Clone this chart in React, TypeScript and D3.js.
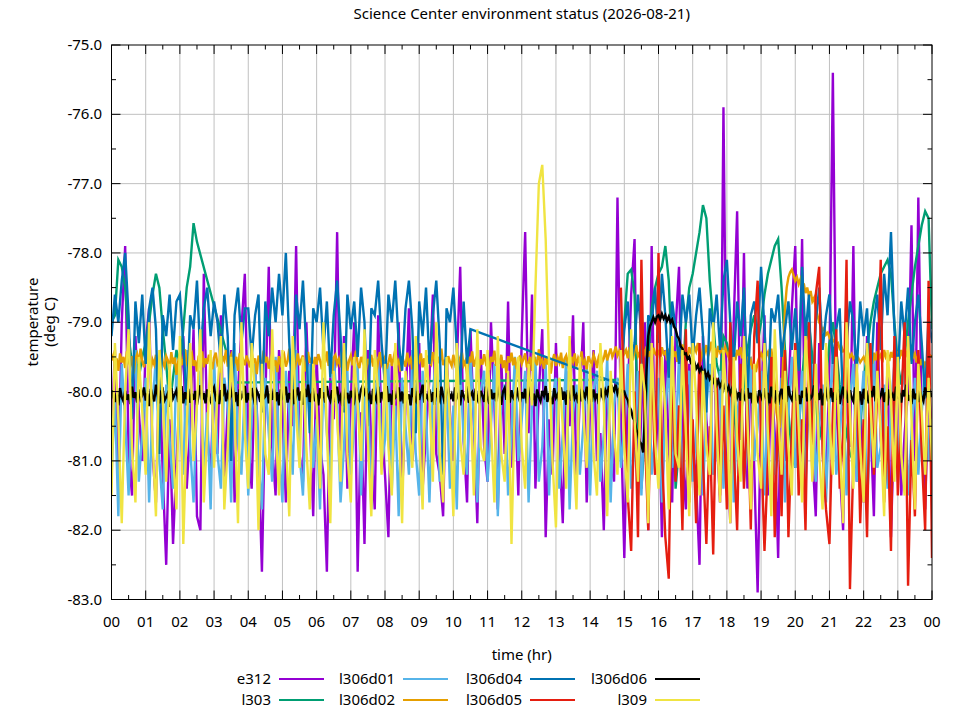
import React from 'react';
import * as d3 from 'd3';

// ---- chart data (temperature in deg C) ----
const STEP_HR = 0.1;       // sampling of most series
const FINE_STEP_HR = 0.05; // sampling of l306d02 / l306d06

const xTickLabels = ['00','01','02','03','04','05','06','07','08','09','10','11','12','13','14','15','16','17','18','19','20','21','22','23','00'];
const yTickValues = [-75, -76, -77, -78, -79, -80, -81, -82, -83];

const e312 = [
  -80.6, -79.4, -81.3, -79.0, -77.9, -80.9, -81.5, -79.2, -80.3, -81.0,
  -79.3, -78.8, -80.9, -81.6, -79.6, -81.2, -82.5, -80.4, -82.2, -81.0,
  -80.0, -79.2, -81.4, -80.5, -79.1, -81.8, -82.0, -78.3, -80.6, -81.2,
  -79.8, -80.9, -78.9, -81.3, -80.2, -79.4, -81.6, -80.0, -79.1, -78.3,
  -80.7, -81.4, -79.6, -80.9, -82.6, -80.1, -78.2, -80.8, -81.5, -79.4,
  -80.2, -81.6, -79.7, -80.5, -77.9, -80.9, -81.3, -79.0, -80.4, -81.8,
  -79.5, -80.8, -81.2, -82.6, -79.8, -80.4, -77.7, -80.9, -79.2, -81.4,
  -80.1, -79.0, -82.6, -80.3, -82.2, -79.4, -80.8, -81.7, -78.9, -80.5,
  -81.2, -82.1, -79.6, -80.7, -79.0, -81.5, -80.2, -78.8, -81.0, -80.4,
  -79.3, -81.4, -80.6, -79.8, -78.6, -80.9, -81.2, -81.8, -79.5, -80.3,
  -81.0, -79.6, -78.2, -80.7, -81.6, -79.1, -80.5, -81.9, -79.4, -80.8,
  -81.3, -79.0, -80.2, -81.7, -79.5, -80.9, -78.7, -81.1, -80.0, -81.5,
  -79.2, -77.7, -80.6, -78.6, -81.4, -80.0, -79.1, -82.1, -80.4, -81.2,
  -79.3, -80.8, -81.9, -79.7, -80.5, -78.9, -81.3, -80.1, -79.0, -81.6,
  -80.2, -79.4, -81.0, -80.6, -82.0, -79.8, -80.9, -81.3, -77.2, -80.4,
  -82.4, -80.1, -78.6, -77.8, -81.5, -80.3, -79.0, -82.0, -77.9, -81.2,
  -80.0, -82.1, -79.4, -80.8, -81.6, -79.1, -78.2, -80.9, -81.7, -79.6,
  -80.7, -81.3, -82.5, -79.2, -80.4, -81.0, -79.3, -80.6, -81.6, -75.9,
  -80.8, -81.9, -79.0, -77.4, -80.7, -78.0, -81.4, -79.6, -81.1, -82.9,
  -80.3, -78.9, -81.5, -79.8, -80.6, -82.4, -79.4, -81.0, -80.1, -78.8,
  -77.9, -80.6, -77.8, -81.2, -79.7, -80.9, -81.8, -79.3, -80.5, -81.4,
  -79.6, -75.4, -80.2, -81.1, -82.0, -79.5, -80.8, -77.9, -81.3, -80.0,
  -81.6, -79.2, -80.4, -81.8, -79.0, -80.7, -81.2, -79.6, -82.1, -80.3,
  -79.4, -81.5, -80.6, -80.0, -77.6, -81.0, -77.2, -80.5, -81.7, -79.9,
  -80.6,
];

// l303: data until 2.5 hr, one reading at 3.6 hr, resumes at 14.9 hr
const l303_a = [
  -79.0, -78.9, -78.1, -78.2, -78.5, -79.2, -79.6, -79.4, -79.8, -79.5,
  -79.3, -79.0, -78.6, -78.3, -78.5, -79.1, -79.6, -80.2, -79.8, -79.4,
  -79.6, -79.1, -78.5, -78.2, -77.57, -77.84,
];
const l303_b = [-79.87];
const l303_c = [
  -79.83,
  -79.0, -78.3, -78.24, -78.6, -80.5, -81.4, -80.6, -79.5, -78.8, -78.5,
  -78.3, -78.2, -77.9, -78.4, -79.6, -81.4, -80.8, -79.9, -79.0, -78.5,
  -78.3, -78.0, -77.7, -77.31, -77.5, -78.4, -79.0, -79.6, -79.8, -79.2,
  -79.3, -79.6, -80.2, -80.8, -80.4, -79.9, -79.4, -79.1, -78.9, -79.3,
  -79.0, -78.6, -78.3, -78.1, -77.9, -77.8, -78.5, -79.4, -80.3, -80.9,
  -81.1, -80.6, -79.8, -79.3, -79.0, -79.5, -80.1, -80.7, -80.4, -79.8,
  -79.3, -79.0, -79.4, -79.9, -80.3, -80.6, -80.9, -81.0, -81.1, -80.5,
  -79.9, -79.4, -79.0, -78.7, -78.5, -78.3, -78.2, -78.1, -78.3, -79.0,
  -79.6, -79.9, -79.5, -79.0, -78.6, -78.2, -77.9, -77.6, -77.4, -77.5,
  -79.1,
];

const l306d01 = [
  -81.2, -80.1, -81.8, -79.6, -80.4, -81.5, -80.0, -79.4, -81.3, -80.6,
  -79.8, -81.6, -80.2, -79.5, -81.0, -81.7, -79.9, -80.7, -81.4, -79.6,
  -80.5, -81.2, -79.4, -80.8, -81.6, -80.1, -79.7, -81.1, -80.3, -81.7,
  -79.5, -80.9, -81.4, -79.8, -80.2, -81.6, -79.3, -80.7, -81.2, -79.9,
  -81.5, -80.4, -79.6, -81.0, -81.7, -79.8, -80.6, -81.3, -79.5, -80.8,
  -81.6, -79.7, -80.3, -81.2, -79.4, -80.9, -81.5, -80.0, -79.6, -81.1,
  -80.4, -81.7, -79.8, -80.6, -81.3, -79.5, -80.2, -81.6, -80.8, -79.7,
  -81.2, -80.5, -79.6, -81.5, -80.1, -79.9, -81.7, -80.3, -79.5, -81.0,
  -80.7, -79.6, -81.4, -80.2, -81.8, -79.8, -80.5, -81.2, -79.4, -80.9,
  -81.5, -79.7, -80.3, -81.6, -80.0, -79.5, -81.3, -80.8, -79.9, -81.4,
  -80.2, -81.7, -79.6, -80.7, -81.2, -79.5, -80.4, -81.6, -80.0, -79.7,
  -81.3, -80.5, -79.6, -81.8, -80.1, -79.9, -81.5, -80.6, -79.5, -81.0,
  -80.4, -79.7, -81.6, -80.2, -79.5, -81.3, -80.8, -79.6, -81.5, -80.1,
  -79.8, -81.4, -80.6, -79.5, -81.7, -80.3, -79.9, -81.2, -80.5, -79.6,
  -81.5, -80.0, -79.7, -81.3, -80.6, -79.5, -81.6, -80.2, -79.8, -81.1,
  -80.5, -79.6, -81.4, -80.8, -79.7, -81.5, -80.1, -79.5, -81.2, -80.6,
  -79.8, -81.6, -80.3, -79.6, -81.1, -80.7, -79.5, -81.4, -80.0, -79.7,
  -81.3, -80.6, -79.8, -81.5, -80.2, -79.6, -81.2, -80.8, -79.7, -81.4,
  -80.1, -79.6, -81.6, -80.4, -79.8, -81.3, -80.7, -79.5, -81.0, -80.5,
  -79.7, -81.5, -80.2, -79.6, -81.2, -80.9, -79.8, -81.6, -80.3, -79.5,
  -81.1, -80.6, -79.7, -81.4, -80.0, -79.6, -81.3, -80.5, -79.9, -81.6,
  -80.2, -79.5, -81.2, -80.7, -79.8, -81.5, -80.1, -79.6, -81.3, -80.4,
  -79.7, -81.6, -80.5, -79.5, -81.1, -80.8, -79.9, -81.4, -80.2, -79.6,
  -81.3, -80.0, -79.7, -81.5, -80.6, -79.8, -81.2, -80.3, -79.6, -81.0,
  -80.4,
];

// l306d02: every 0.05 hr
const l306d02 = [
  -79.55, -79.48, -79.62, -79.52, -79.70, -79.45, -79.58, -79.50, -79.66, -79.42, -79.57, -79.63, -79.49, -79.74, -79.53, -79.46, -79.60, -79.38, -79.56, -79.65,
  -79.50, -79.59, -79.44, -79.68, -79.54, -79.61, -79.47, -79.72, -79.52, -79.40, -79.58, -79.64, -79.49, -79.55, -79.69, -79.43, -79.60, -79.51, -79.76, -79.57,
  -79.46, -79.62, -79.53, -79.39, -79.58, -79.67, -79.50, -79.45, -79.63, -79.55, -79.71, -79.48, -79.59, -79.42, -79.65, -79.52, -79.60, -79.47, -79.56, -79.68,
  -79.51, -79.44, -79.61, -79.57, -79.73, -79.49, -79.55, -79.40, -79.64, -79.53, -79.47, -79.66, -79.58, -79.50, -79.70, -79.45, -79.60, -79.54, -79.62, -79.48,
  -79.57, -79.65, -79.43, -79.59, -79.52, -79.75, -79.48, -79.56, -79.61, -79.41, -79.58, -79.50, -79.67, -79.54, -79.46, -79.63, -79.55, -79.72, -79.49, -79.60,
  -79.53, -79.47, -79.64, -79.56, -79.38, -79.60, -79.51, -79.69, -79.58, -79.45, -79.62, -79.54, -79.48, -79.71, -79.57, -79.43, -79.59, -79.52, -79.66, -79.50,
  -79.61, -79.46, -79.55, -79.68, -79.49, -79.58, -79.42, -79.63, -79.56, -79.74, -79.51, -79.47, -79.60, -79.53, -79.65, -79.44, -79.57, -79.50, -79.70, -79.55,
  -79.48, -79.62, -79.54, -79.41, -79.59, -79.66, -79.50, -79.57, -79.45, -79.69, -79.53, -79.60, -79.47, -79.64, -79.52, -79.73, -79.56, -79.43, -79.61, -79.55,
  -79.50, -79.67, -79.58, -79.46, -79.63, -79.52, -79.40, -79.60, -79.55, -79.71, -79.49, -79.57, -79.64, -79.44, -79.59, -79.53, -79.68, -79.47, -79.62, -79.51,
  -79.56, -79.45, -79.65, -79.52, -79.70, -79.48, -79.58, -79.61, -79.43, -79.55, -79.66, -79.50, -79.59, -79.38, -79.62, -79.54, -79.72, -79.49, -79.57, -79.63,
  -79.47, -79.60, -79.53, -79.68, -79.51, -79.44, -79.62, -79.56, -79.75, -79.50, -79.58, -79.42, -79.64, -79.55, -79.48, -79.67, -79.53, -79.61, -79.46, -79.59,
  -79.54, -79.69, -79.50, -79.57, -79.41, -79.63, -79.52, -79.60, -79.47, -79.66, -79.55, -79.73, -79.49, -79.58, -79.44, -79.62, -79.51, -79.68, -79.56, -79.48,
  -79.60, -79.53, -79.45, -79.65, -79.58, -79.50, -79.70, -79.47, -79.56, -79.62, -79.39, -79.59, -79.54, -79.67, -79.49, -79.61, -79.52, -79.74, -79.55, -79.46,
  -79.63, -79.51, -79.58, -79.44, -79.66, -79.53, -79.48, -79.60, -79.71, -79.50, -79.57, -79.45, -79.64, -79.52, -79.59, -79.42, -79.62, -79.55, -79.68, -79.49,
  -79.56, -79.61, -79.47, -79.54, -79.66, -79.50, -79.43, -79.58, -79.52, -79.40, -79.55, -79.46, -79.38, -79.50, -79.44, -79.35, -79.48, -79.42, -79.53, -79.37,
  -79.45, -79.40, -79.52, -79.36, -79.47, -79.55, -79.41, -79.33, -79.49, -79.44, -79.58, -79.39, -79.46, -79.35, -79.50, -79.42, -79.54, -79.37, -79.45, -79.48,
  -79.40, -79.52, -79.36, -79.46, -79.43, -79.55, -79.38, -79.48, -79.34, -79.50, -79.42, -79.57, -79.39, -79.45, -79.32, -79.47, -79.41, -79.53, -79.36, -79.44,
  -79.48, -79.35, -79.42, -79.30, -79.46, -79.52, -79.38, -79.44, -79.33, -79.49, -79.40, -79.28, -79.45, -79.37, -79.51, -79.34, -79.43, -79.39, -79.47, -79.36,
  -79.44, -79.50, -79.38, -79.46, -79.42, -79.55, -79.40, -79.48, -79.36, -79.52, -79.45, -79.58, -79.50, -79.62, -79.55, -79.68, -79.60, -79.72, -79.58, -79.50,
  -79.45, -79.52, -79.40, -79.48, -79.43, -79.55, -79.38, -79.60, -79.90, -80.30, -80.45, -80.52, -80.10, -79.50, -78.80, -78.50, -78.35, -78.28, -78.24, -78.32,
  -78.40, -78.35, -78.45, -78.38, -78.52, -78.44, -78.58, -78.50, -78.62, -78.55, -78.70, -78.65, -78.80, -78.90, -79.00, -79.05, -79.12, -79.08, -79.18, -79.15,
  -79.22, -79.18, -79.28, -79.25, -79.32, -79.30, -79.38, -79.35, -79.42, -79.40, -79.47, -79.44, -79.50, -79.46, -79.53, -79.49, -79.56, -79.52, -79.58, -79.54,
  -79.50, -79.57, -79.45, -79.53, -79.48, -79.60, -79.44, -79.55, -79.42, -79.52, -79.47, -79.58, -79.40, -79.50, -79.45, -79.56, -79.43, -79.51, -79.38, -79.48,
  -79.44, -79.53, -79.40, -79.49, -79.36, -79.47, -79.42, -79.55, -79.39, -79.50, -79.45, -79.58, -79.48, -79.62, -79.53, -79.66, -79.58, -79.60, -79.52, -79.48,
  -79.50,
];

// l306d04: data until 10.5 hr, resumes at 14.9 hr
const l306d04_a = [
  -79.2, -78.6, -79.0, -78.4, -78.0, -78.9, -80.4, -78.7, -79.3, -78.6,
  -79.6, -78.8, -78.5, -79.1, -80.9, -78.9, -79.2, -78.6, -79.4, -78.7,
  -78.6, -79.3, -80.2, -78.9, -79.1, -78.4, -79.5, -78.8, -78.5, -79.2,
  -78.7, -79.0, -79.6, -78.6, -79.2, -81.0, -78.9, -78.5, -79.3, -78.8,
  -78.8, -79.5, -78.9, -78.6, -80.3, -78.7, -79.2, -78.5, -79.0, -78.3,
  -78.9, -78.0, -79.3, -80.2, -78.6, -79.1, -78.4, -79.4, -80.6, -78.8,
  -79.0, -78.5, -79.4, -78.7, -79.8, -78.9, -78.4, -79.2, -80.3, -78.6,
  -79.1, -78.7, -79.5, -78.5, -79.0, -80.5, -78.8, -78.9, -78.4, -79.3,
  -79.9, -78.6, -79.0, -78.4, -79.3, -79.7, -78.8, -78.4, -79.1, -80.6,
  -78.7, -79.2, -78.5, -79.6, -78.9, -78.4, -79.3, -81.2, -78.8, -79.0,
  -78.5, -79.4, -79.9, -78.7, -79.6, -79.1,
];
const l306d04_b = [
  -79.9,
  -79.1, -78.7, -79.6, -79.3, -78.6, -79.2, -80.4, -78.9, -79.0, -78.5,
  -79.3, -78.3, -78.9, -79.8, -78.7, -79.1, -79.6, -78.6, -79.0, -78.6,
  -79.5, -78.9, -78.5, -79.2, -80.3, -78.8, -79.1, -78.6, -79.4, -78.4,
  -78.1, -79.0, -79.6, -78.7, -79.2, -78.5, -80.1, -78.9, -78.7, -79.3,
  -78.2, -79.1, -80.2, -78.8, -79.0, -78.6, -79.5, -79.1, -78.7, -79.4,
  -78.8, -79.7, -78.2, -79.2, -78.6, -80.4, -79.0, -78.5, -79.4, -78.9,
  -78.6, -79.6, -79.1, -78.8, -80.2, -79.3, -78.7, -79.0, -79.7, -78.7,
  -79.2, -78.8, -79.9, -79.0, -78.6, -79.4, -78.3, -78.9, -77.7, -79.1,
  -79.8, -78.7, -79.2, -78.5, -79.6, -79.0, -78.6, -79.3, -80.1, -78.9,
  -79.3,
];

// l306d05: starts at 14.9 hr
const l306d05 = [
  -78.5,
  -80.3, -81.5, -82.3, -80.0, -82.1, -78.1, -80.6, -82.0, -79.4, -81.2,
  -78.0, -80.9, -82.1, -82.7, -79.5, -81.3, -80.2, -82.0, -79.1, -81.6,
  -80.4, -81.9, -79.3, -81.0, -82.2, -80.5, -82.35, -79.8, -81.5, -80.2,
  -81.7, -79.0, -80.8, -82.0, -79.6, -81.4, -80.1, -81.99, -79.2, -78.4,
  -80.7, -82.3, -81.0, -79.5, -82.1, -80.2, -81.8, -79.4, -82.1, -80.6,
  -79.3, -81.5, -80.4, -82.0, -79.0, -81.2, -78.6, -78.2, -80.9, -81.7,
  -82.2, -80.3, -79.1, -81.4, -80.6, -78.1, -82.85, -81.0, -79.7, -81.9,
  -80.4, -82.1, -79.3, -81.2, -80.0, -78.1, -81.6, -80.5, -82.3, -79.2,
  -81.5, -80.2, -79.0, -82.8, -80.7, -81.8, -79.4, -80.9, -82.0, -78.4,
  -82.4,
];

// l306d06: every 0.05 hr
const l306d06 = [
  -80.10, -79.98, -80.15, -80.02, -80.20, -79.95, -80.08, -80.14, -79.99, -80.12, -80.04, -80.18, -79.93, -80.09, -80.01, -80.16, -79.97, -80.11, -80.06, -79.94,
  -80.13, -80.03, -80.21, -79.96, -80.07, -80.14, -79.90, -80.05, -80.17, -80.00, -79.97, -80.13, -80.08, -80.02, -80.22, -79.95, -80.10, -80.04, -79.98, -80.15,
  -80.06, -79.92, -80.17, -80.01, -80.11, -79.96, -80.16, -80.03, -80.12, -79.99, -80.19, -80.05, -79.91, -80.12, -80.02, -80.17, -79.97, -80.08, -80.14, -80.00,
  -79.94, -80.10, -80.05, -80.18, -79.98, -80.07, -79.89, -80.14, -80.03, -80.11, -80.06, -79.93, -80.15, -80.01, -80.21, -79.97, -80.09, -80.05, -79.92, -80.16,
  -80.02, -80.13, -79.95, -80.08, -80.19, -79.99, -80.04, -80.15, -79.94, -80.10, -80.07, -79.91, -80.17, -80.03, -80.12, -79.96, -80.14, -80.01, -80.20, -79.97,
  -80.09, -80.05, -79.93, -80.16, -80.02, -80.11, -79.97, -80.18, -80.06, -79.94, -80.13, -80.00, -80.19, -79.96, -80.08, -79.90, -80.15, -80.04, -79.99, -80.14,
  -80.03, -80.20, -79.95, -80.10, -80.01, -80.16, -79.92, -80.07, -80.13, -79.98, -80.15, -80.04, -79.93, -80.12, -80.06, -80.21, -79.96, -80.09, -80.02, -80.17,
  -79.99, -80.08, -80.14, -79.94, -80.05, -80.11, -79.97, -79.91, -80.02, -79.95, -80.10, -80.04, -80.18, -79.96, -80.07, -80.13, -79.93, -80.16, -80.01, -80.10,
  -80.05, -79.92, -80.15, -80.03, -80.19, -79.98, -80.09, -80.06, -79.94, -80.14, -80.00, -80.17, -79.96, -80.11, -80.04, -80.20, -79.95, -80.08, -80.13, -79.99,
  -80.12, -80.02, -79.90, -80.16, -80.05, -80.10, -79.97, -80.15, -80.01, -80.19, -79.95, -80.08, -80.13, -79.93, -80.06, -80.18, -80.00, -79.96, -80.11, -80.04,
  -80.14, -79.94, -80.09, -80.03, -80.20, -79.98, -80.07, -80.12, -79.92, -80.16, -80.05, -80.01, -80.13, -79.96, -80.10, -80.17, -79.99, -80.06, -80.15, -79.93,
  -80.08, -80.18, -79.97, -80.11, -80.02, -80.14, -79.91, -80.06, -80.19, -80.00, -79.95, -80.12, -80.04, -80.16, -79.98, -80.09, -80.13, -79.94, -80.07, -80.15,
  -80.01, -80.10, -79.96, -80.17, -80.05, -79.93, -80.12, -80.03, -80.21, -79.97, -80.08, -80.14, -79.99, -80.06, -79.92, -80.15, -80.02, -80.11, -80.18, -79.95,
  -80.09, -80.04, -80.16, -79.94, -80.12, -80.00, -80.19, -79.98, -80.07, -80.13, -79.91, -80.10, -80.05, -80.17, -79.96, -80.14, -80.02, -80.08, -79.93, -80.12,
  -80.06, -80.15, -79.97, -80.10, -80.03, -80.18, -79.95, -80.07, -80.12, -79.98, -80.04, -79.92, -80.01, -79.94, -79.99, -79.90, -80.03, -79.96, -79.93, -80.00,
  -80.00, -80.08, -80.12, -80.22, -80.27, -80.38, -80.42, -80.55, -80.60, -80.72, -80.76, -80.88, -80.40, -79.70, -79.20, -79.06, -79.00, -78.93, -79.00, -78.92,
  -78.90, -78.96, -78.88, -78.95, -78.90, -78.98, -78.92, -79.00, -78.96, -79.06, -79.10, -79.20, -79.24, -79.35, -79.38, -79.46, -79.45, -79.53, -79.50, -79.59,
  -79.62, -79.58, -79.67, -79.62, -79.71, -79.66, -79.75, -79.70, -79.79, -79.73, -79.82, -79.77, -79.86, -79.80, -79.90, -79.84, -79.93, -79.87, -79.97, -79.90,
  -79.99, -79.93, -80.03, -79.96, -80.06, -79.98, -80.09, -80.01, -80.13, -79.96, -80.06, -80.14, -79.95, -80.10, -80.02, -80.17, -79.93, -80.08, -80.13, -79.98,
  -80.06, -80.14, -79.95, -80.10, -80.02, -80.17, -79.93, -80.08, -80.13, -79.98, -80.19, -80.04, -79.96, -80.11, -80.01, -80.15, -79.92, -80.07, -80.12, -80.00,
  -79.97, -80.13, -80.05, -80.18, -79.99, -80.09, -79.94, -80.14, -80.03, -80.10, -80.06, -79.91, -80.16, -80.02, -80.12, -79.96, -80.20, -80.04, -79.98, -80.11,
  -80.08, -79.95, -80.15, -80.01, -80.12, -79.97, -80.18, -80.05, -79.93, -80.10, -80.03, -80.16, -79.98, -80.09, -80.14, -79.94, -80.07, -80.13, -80.00, -80.19,
  -79.96, -80.11, -80.04, -80.17, -79.99, -80.08, -79.92, -80.14, -80.02, -80.12, -80.06, -79.95, -80.15, -80.01, -80.20, -79.97, -80.09, -80.04, -80.13, -79.93,
  -80.10, -80.02, -80.16, -79.98, -80.07, -79.90, -80.13, -80.05, -80.18, -79.96, -80.11, -80.03, -80.15, -79.99, -80.08, -80.14, -79.94, -80.06, -80.12, -80.01,
  -80.08,
];

const l309 = [
  -81.5, -79.3, -80.4, -81.9, -80.0, -79.1, -80.8, -81.6, -79.5, -80.3,
  -81.2, -79.0, -80.7, -81.8, -79.4, -80.1, -81.3, -79.6, -80.9, -81.7,
  -79.2, -82.2, -80.5, -79.3, -81.0, -80.2, -79.1, -81.6, -80.6, -79.4,
  -81.1, -80.0, -79.2, -81.7, -80.8, -79.5, -80.3, -81.9, -79.0, -80.6,
  -81.4, -79.3, -80.1, -82.0, -79.6, -80.9, -81.2, -79.1, -80.5, -81.5,
  -79.4, -80.7, -81.8, -79.2, -80.3, -81.1, -79.5, -80.8, -81.7, -79.6,
  -80.2, -81.4, -79.0, -80.6, -81.9, -79.7, -80.4, -81.3, -79.3, -80.9,
  -81.6, -79.5, -80.2, -81.0, -79.1, -80.7, -81.8, -79.4, -80.0, -81.2,
  -79.6, -80.8, -81.5, -79.3, -80.3, -81.9, -79.7, -80.5, -81.1, -79.2,
  -80.6, -81.7, -79.4, -80.1, -81.3, -79.0, -80.9, -81.6, -79.5, -80.4,
  -81.8, -79.3, -80.7, -81.2, -79.6, -80.2, -81.5, -79.1, -80.8, -81.0,
  -79.4, -80.5, -81.6, -79.2, -80.9, -81.3, -79.7, -82.2, -80.1, -79.5,
  -80.8, -81.4, -79.6, -80.2, -78.5, -77.0, -76.73, -77.8, -79.6, -81.0,
  -81.96, -79.8, -80.5, -81.4, -79.2, -80.7, -81.7, -79.5, -80.3, -81.1,
  -79.6, -80.9, -81.5, -79.3, -80.2, -81.8, -79.7, -80.6, -81.2, -79.4,
  -80.8, -81.6, -79.1, -80.4, -81.3, -79.6, -80.0, -81.9, -79.3, -80.7,
  -81.4, -79.5, -80.3, -81.7, -79.2, -80.9, -81.1, -79.4, -80.6, -81.8,
  -79.3, -80.1, -81.5, -79.7, -80.8, -81.2, -79.0, -80.5, -81.6, -79.4,
  -80.2, -81.9, -79.5, -80.7, -81.3, -79.2, -80.4, -81.7, -79.6, -80.9,
  -81.4, -79.3, -80.6, -81.8, -79.1, -80.3, -81.2, -79.7, -80.8, -81.5,
  -79.4, -80.5, -81.6, -79.2, -80.0, -81.3, -79.6, -80.9, -81.7, -79.3,
  -80.4, -81.2, -79.5, -80.7, -81.9, -79.0, -80.3, -81.4, -79.6, -80.8,
  -81.6, -79.3, -80.2, -81.1, -79.7, -80.6, -81.8, -79.4, -80.1, -81.3,
  -79.5, -80.9, -81.5, -79.2, -80.4, -81.7, -79.6, -80.3, -81.2, -79.8,
  -81.0,
];

type Segment = { start: number; step: number; values: number[] };
type Series = { name: string; color: string; segments: Segment[] };

const SERIES: Series[] = [
  { name: 'e312', color: '#9400d3', segments: [{ start: 0, step: STEP_HR, values: e312 }] },
  { name: 'l303', color: '#009e73', segments: [
    { start: 0, step: STEP_HR, values: l303_a },
    { start: 3.6, step: STEP_HR, values: l303_b },
    { start: 14.9, step: STEP_HR, values: l303_c },
  ] },
  { name: 'l306d01', color: '#56b4e9', segments: [{ start: 0, step: STEP_HR, values: l306d01 }] },
  { name: 'l306d02', color: '#e69f00', segments: [{ start: 0, step: FINE_STEP_HR, values: l306d02 }] },
  { name: 'l306d04', color: '#0072b2', segments: [
    { start: 0, step: STEP_HR, values: l306d04_a },
    { start: 14.9, step: STEP_HR, values: l306d04_b },
  ] },
  { name: 'l306d05', color: '#e51e10', segments: [{ start: 14.9, step: STEP_HR, values: l306d05 }] },
  { name: 'l306d06', color: '#000000', segments: [{ start: 0, step: FINE_STEP_HR, values: l306d06 }] },
  { name: 'l309', color: '#f0e442', segments: [{ start: 0, step: STEP_HR, values: l309 }] },
];

// ---- layout ----
const W = 960;
const H = 720;
const M = { left: 111.5, right: 932, top: 45, bottom: 599.5 };
const FONT = '"Noto Sans", "Open Sans", sans-serif';

export default function App() {
  const x = d3.scaleLinear().domain([0, 24]).range([M.left, M.right]);
  const y = d3.scaleLinear().domain([-83, -75]).range([M.bottom, M.top]);

  const line = d3
    .line<[number, number]>()
    .x((d) => x(d[0]))
    .y((d) => y(d[1]));

  const toPoints = (s: Series): [number, number][] =>
    s.segments.flatMap((seg) =>
      seg.values.map((v, i) => [seg.start + i * seg.step, v] as [number, number])
    );

  const majorX = d3.range(0, 25, 1);
  const minorX = d3.range(0.5, 24, 1);
  const majorY = yTickValues;
  const minorY = d3.range(-82.5, -75, 1);

  const gridColor = '#c0c0c0';
  const majorLen = 9;
  const minorLen = 4.5;

  const legendCols = [271, 395, 522, 647];
  const legendRows = [679, 700];

  return (
    <svg
      width={W}
      height={H}
      style={{ position: 'absolute', left: 0, top: 0, display: 'block', background: '#fff' }}
      fontFamily={FONT}
    >
      <rect x={0} y={0} width={W} height={H} fill="#fff" />
      <defs>
        <clipPath id="plotClip">
          <rect x={M.left} y={M.top} width={M.right - M.left} height={M.bottom - M.top} />
        </clipPath>
      </defs>

      {/* grid */}
      <g stroke={gridColor} strokeWidth={1}>
        {majorX.slice(1, -1).map((t) => (
          <line key={'gx' + t} x1={x(t)} x2={x(t)} y1={M.top} y2={M.bottom} />
        ))}
        {majorY.slice(1, -1).map((v) => (
          <line key={'gy' + v} x1={M.left} x2={M.right} y1={y(v)} y2={y(v)} />
        ))}
      </g>

      {/* data */}
      <g clipPath="url(#plotClip)" fill="none" strokeLinejoin="miter" strokeLinecap="butt">
        {SERIES.map((s) => (
          <path key={s.name} d={line(toPoints(s)) || ''} stroke={s.color} strokeWidth={2.4} />
        ))}
      </g>

      {/* ticks */}
      <g stroke="#000" strokeWidth={1}>
        {majorX.map((t) => (
          <g key={'tx' + t}>
            <line x1={x(t)} x2={x(t)} y1={M.bottom} y2={M.bottom - majorLen} />
            <line x1={x(t)} x2={x(t)} y1={M.top} y2={M.top + majorLen} />
          </g>
        ))}
        {minorX.map((t) => (
          <g key={'mx' + t}>
            <line x1={x(t)} x2={x(t)} y1={M.bottom} y2={M.bottom - minorLen} />
            <line x1={x(t)} x2={x(t)} y1={M.top} y2={M.top + minorLen} />
          </g>
        ))}
        {majorY.map((v) => (
          <g key={'ty' + v}>
            <line x1={M.left} x2={M.left + majorLen} y1={y(v)} y2={y(v)} />
            <line x1={M.right} x2={M.right - majorLen} y1={y(v)} y2={y(v)} />
          </g>
        ))}
        {minorY.map((v) => (
          <g key={'my' + v}>
            <line x1={M.left} x2={M.left + minorLen} y1={y(v)} y2={y(v)} />
            <line x1={M.right} x2={M.right - minorLen} y1={y(v)} y2={y(v)} />
          </g>
        ))}
      </g>

      {/* border */}
      <rect x={M.left} y={M.top} width={M.right - M.left} height={M.bottom - M.top} fill="none" stroke="#000" strokeWidth={1} />

      {/* tick labels */}
      <g fontSize={15} fill="#000">
        {majorX.map((t, i) => (
          <text key={'lx' + t} x={x(t)} y={627} textAnchor="middle">
            {xTickLabels[i]}
          </text>
        ))}
        {majorY.map((v) => (
          <text key={'ly' + v} x={102} y={y(v) + 5} textAnchor="end">
            {v.toFixed(1)}
          </text>
        ))}
      </g>

      {/* titles */}
      <text x={(M.left + M.right) / 2} y={19} textAnchor="middle" fontSize={15}>
        Science Center environment status (2026-08-21)
      </text>
      <text x={(M.left + M.right) / 2} y={660} textAnchor="middle" fontSize={15}>
        time (hr)
      </text>
      <g transform="translate(0, 322) rotate(-90)" fontSize={15}>
        <text x={0} y={38} textAnchor="middle">temperature</text>
        <text x={0} y={55} textAnchor="middle">(deg C)</text>
      </g>

      {/* legend */}
      <g fontSize={15}>
        {SERIES.map((s, i) => {
          const col = Math.floor(i / 2);
          const row = i % 2;
          const lx = legendCols[col];
          const ly = legendRows[row];
          return (
            <g key={'lg' + s.name}>
              <text x={lx} y={ly + 5} textAnchor="end">
                {s.name}
              </text>
              <line x1={lx + 8} x2={lx + 53} y1={ly} y2={ly} stroke={s.color} strokeWidth={2} />
            </g>
          );
        })}
      </g>
    </svg>
  );
}
